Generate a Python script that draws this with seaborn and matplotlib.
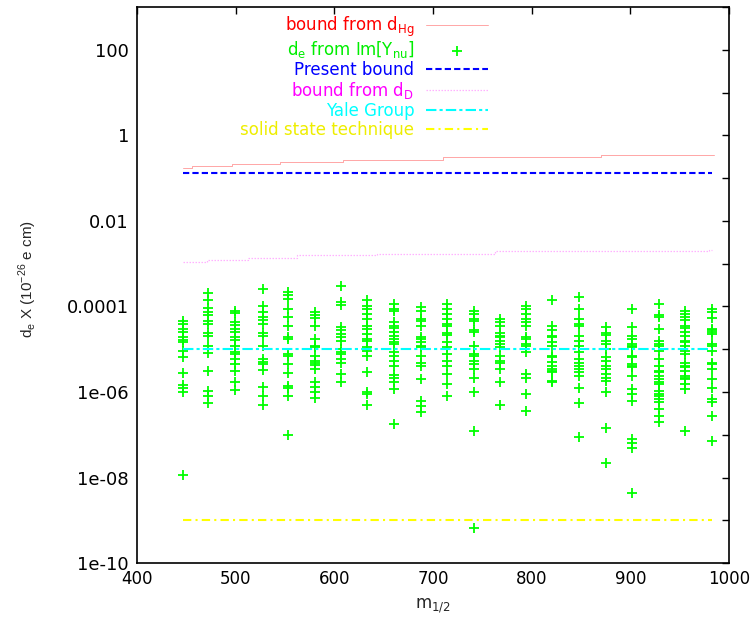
import numpy as np
import pandas as pd
import matplotlib
matplotlib.use("Agg")
import matplotlib.pyplot as plt
from matplotlib.ticker import NullFormatter
import seaborn as sns

# m_1/2 grid of the scan
m_half = [446, 472, 499, 527, 553, 580, 607, 633, 660, 688, 714,
          741, 768, 794, 821, 848, 875, 902, 929, 955, 983]

# log10(d_e) of the scan points, one list per m_1/2 column
de_log10 = [
    [-4.33, -4.41, -4.53, -4.59, -4.71, -4.78, -4.84, -5.03, -5.17, -5.56, -5.84, -5.90, -6.01, -7.94],
    [-3.68, -3.86, -4.03, -4.14, -4.20, -4.33, -4.41, -4.62, -4.68, -4.92, -5.09, -5.50, -5.97, -6.09, -6.26],
    [-4.10, -4.15, -4.37, -4.43, -4.53, -4.59, -4.72, -4.78, -4.92, -5.06, -5.11, -5.23, -5.35, -5.50, -5.76, -5.95],
    [-3.59, -3.98, -4.14, -4.25, -4.31, -4.41, -4.63, -4.68, -4.93, -5.23, -5.29, -5.35, -5.48, -5.89, -6.10, -6.31],
    [-3.67, -3.73, -3.82, -4.06, -4.25, -4.45, -4.72, -4.76, -5.11, -5.15, -5.35, -5.56, -5.85, -5.91, -6.09, -7.01],
    [-4.14, -4.21, -4.28, -4.45, -4.76, -4.92, -4.95, -5.15, -5.27, -5.32, -5.37, -5.46, -5.77, -5.89, -6.01, -6.13],
    [-3.51, -3.90, -3.96, -4.49, -4.56, -4.64, -4.72, -4.80, -4.99, -5.06, -5.11, -5.23, -5.32, -5.58, -5.76],
    [-3.86, -3.98, -4.06, -4.17, -4.29, -4.45, -4.53, -4.64, -4.76, -4.80, -4.95, -5.03, -5.15, -5.52, -6.01, -6.05, -6.31],
    [-3.94, -4.06, -4.10, -4.37, -4.45, -4.51, -4.60, -4.68, -4.76, -4.82, -4.88, -5.07, -5.15, -5.27, -5.40, -5.60, -5.66, -5.77, -5.93, -6.75],
    [-4.02, -4.10, -4.29, -4.35, -4.45, -4.72, -4.76, -4.84, -4.92, -4.95, -5.15, -5.32, -5.38, -5.70, -6.20, -6.32, -6.46],
    [-3.94, -4.06, -4.17, -4.29, -4.41, -4.45, -4.62, -4.67, -4.84, -4.95, -5.11, -5.27, -5.38, -5.58, -5.81, -6.09],
    [-4.10, -4.17, -4.29, -4.35, -4.56, -4.60, -4.92, -5.11, -5.15, -5.27, -5.35, -5.46, -5.66, -6.01, -6.91, -9.17],
    [-4.29, -4.37, -4.45, -4.62, -4.68, -4.72, -4.80, -4.88, -4.95, -5.15, -5.27, -5.31, -5.46, -5.77, -6.31],
    [-3.98, -4.06, -4.17, -4.29, -4.37, -4.45, -4.71, -4.76, -4.88, -4.92, -5.07, -5.58, -5.66, -6.05, -6.44],
    [-3.86, -4.45, -4.54, -4.68, -4.72, -4.84, -4.92, -5.15, -5.19, -5.29, -5.38, -5.46, -5.50, -5.54, -5.74, -5.77],
    [-3.78, -4.06, -4.29, -4.41, -4.45, -4.68, -4.80, -4.92, -5.07, -5.23, -5.31, -5.38, -5.46, -5.54, -5.62, -5.91, -6.26, -7.06],
    [-4.49, -4.62, -4.67, -4.80, -4.88, -4.99, -5.19, -5.27, -5.38, -5.46, -5.58, -5.66, -5.74, -6.01, -6.85, -7.65],
    [-4.06, -4.49, -4.68, -4.76, -4.88, -4.92, -4.95, -5.15, -5.19, -5.35, -5.38, -5.42, -5.62, -5.93, -6.05, -6.20, -7.10, -7.18, -7.30, -8.35],
    [-3.94, -4.21, -4.25, -4.53, -4.80, -4.88, -4.92, -5.03, -5.23, -5.38, -5.50, -5.54, -5.62, -5.70, -5.77, -5.81, -5.97, -6.05, -6.09, -6.16, -6.23, -6.40, -6.56, -6.70],
    [-4.10, -4.17, -4.25, -4.31, -4.45, -4.51, -4.60, -4.68, -4.80, -4.84, -4.92, -5.03, -5.11, -5.31, -5.38, -5.42, -5.50, -5.62, -5.66, -5.70, -5.81, -5.93, -6.91],
    [-4.06, -4.14, -4.28, -4.53, -4.56, -4.60, -4.64, -4.88, -4.92, -5.03, -5.32, -5.35, -5.46, -5.70, -5.91, -6.16, -6.24, -6.56, -7.14],
]

# bounds (stepped curves and constants)
hg_m = [446, 456, 496, 545, 609, 710, 870, 985]
hg_bound = [0.173, 0.196, 0.219, 0.238, 0.271, 0.312, 0.342, 0.342]
dD_m = [446, 471, 512, 562, 643, 763, 980, 983]
dD_bound = [1.08e-3, 1.23e-3, 1.37e-3, 1.56e-3, 1.71e-3, 1.93e-3, 2.11e-3, 2.11e-3]
range_m = [446, 983]
present_bound = [0.13, 0.13]
yale_bound = [1e-5, 1e-5]
solid_state_bound = [1e-9, 1e-9]

x_ticks = [400, 500, 600, 700, 800, 900, 1000]
y_ticks = [1e-10, 1e-08, 1e-06, 1e-04, 1e-02, 1, 100]
y_ticklabels = ["1e-10", "1e-08", "1e-06", "0.0001", "0.01", "1", "100"]
y_minor = [1e-09, 1e-07, 1e-05, 1e-03, 1e-01, 10, 1000]

points = pd.DataFrame(
    [(m, 10.0 ** v) for m, col in zip(m_half, de_log10) for v in col],
    columns=["m", "de"],
)

sns.set_style("white")
plt.rcParams["font.family"] = ["DejaVu Sans"]
plt.rcParams["mathtext.fontset"] = "custom"
plt.rcParams["mathtext.rm"] = "DejaVu Sans"

fig = plt.figure(figsize=(7.5, 6.3), dpi=100)
ax = fig.add_axes([0.183, 0.106, 0.789, 0.883])

sns.lineplot(x=hg_m, y=hg_bound, ax=ax, color="red", lw=0.7, alpha=0.35,
             drawstyle="steps-post", label=r"bound from d$_\mathregular{Hg}$")
sns.scatterplot(data=points, x="m", y="de", ax=ax, marker="+", s=60,
                color="#00ff00", linewidth=1.3,
                label=r"d$_\mathregular{e}$ from Im[Y$_\mathregular{nu}$]")
sns.lineplot(x=range_m, y=present_bound, ax=ax, color="blue", lw=1.5,
             linestyle=(0, (3, 1.5)), label="Present bound")
sns.lineplot(x=dD_m, y=dD_bound, ax=ax, color="magenta", lw=0.9, alpha=0.3,
             drawstyle="steps-post", linestyle=(0, (1.2, 1.2)),
             label=r"bound from d$_\mathregular{D}$")
sns.lineplot(x=range_m, y=yale_bound, ax=ax, color="cyan", lw=1.5,
             linestyle=(0, (5, 1.5, 1.5, 1.5)), label="Yale Group")
sns.lineplot(x=range_m, y=solid_state_bound, ax=ax, color="yellow", lw=1.5,
             linestyle=(0, (4, 2, 1, 2)), label="solid state technique")

ax.set_yscale("log")
ax.set_xlim(400, 1000)
ax.set_ylim(1e-10, 1e3)
ax.set_xticks(x_ticks)
ax.set_xticklabels([str(t) for t in x_ticks])
ax.set_yticks(y_ticks)
ax.set_yticklabels(y_ticklabels)
ax.set_yticks(y_minor, minor=True)
ax.yaxis.set_minor_formatter(NullFormatter())
ax.tick_params(which="both", direction="in", top=True, right=True,
               length=5, width=1, labelsize=13, colors="black")
ax.tick_params(axis="x", pad=5, labelsize=12)
ax.tick_params(axis="y", pad=6)
for s in ax.spines.values():
    s.set_color("black")
    s.set_linewidth(1.2)

ax.set_xlabel(r"m$_\mathregular{1/2}$", fontsize=12, labelpad=6)
ax.set_ylabel(r"d$_\mathregular{e}$ X (10$^\mathregular{-26}$ e cm)", fontsize=11,
              family="Liberation Sans")
ax.yaxis.set_label_coords(-0.166, 0.51)

leg = ax.legend(loc="upper right", bbox_to_anchor=(0.605, 1.0), frameon=False,
                markerfirst=False, handlelength=3.7, handletextpad=0.7,
                labelspacing=0.05, fontsize=12, borderaxespad=0.05)
for txt, c in zip(leg.get_texts(), ["red", "#00ee00", "blue", "magenta", "cyan", "#eeee00"]):
    txt.set_color(c)

fig.savefig("out.png", dpi=100)
